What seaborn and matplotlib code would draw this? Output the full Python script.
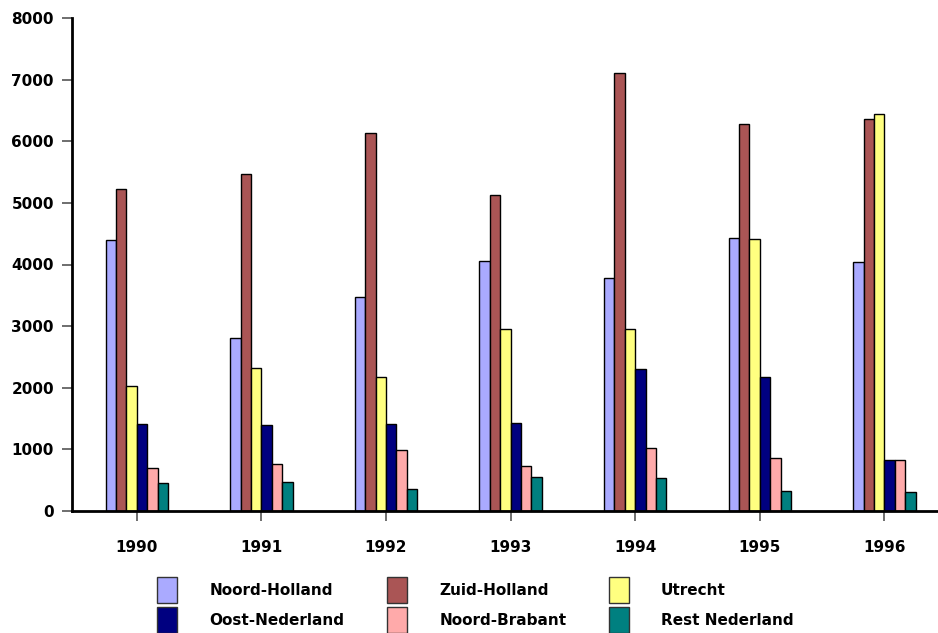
import matplotlib
matplotlib.use("Agg")
import matplotlib.pyplot as plt
from matplotlib.patches import Patch
import numpy as np
import pandas as pd
import seaborn as sns

years = ["1990", "1991", "1992", "1993", "1994", "1995", "1996"]
regions = ["Noord-Holland", "Zuid-Holland", "Utrecht",
           "Oost-Nederland", "Noord-Brabant", "Rest Nederland"]

noord_holland = [4400, 2810, 3470, 4060, 3780, 4435, 4035]
zuid_holland = [5225, 5475, 6130, 5130, 7100, 6275, 6355]
utrecht = [2030, 2325, 2170, 2960, 2950, 4420, 6435]
oost_nederland = [1410, 1390, 1410, 1430, 2310, 2170, 835]
noord_brabant = [700, 765, 985, 735, 1015, 855, 825]
rest_nederland = [460, 470, 350, 555, 540, 325, 310]

colors = ["#AAAAFF", "#AA5555", "#FFFF80", "#000080", "#FFAAAA", "#008080"]

series = [noord_holland, zuid_holland, utrecht,
          oost_nederland, noord_brabant, rest_nederland]
df = pd.DataFrame({
    "year": np.repeat([years], len(regions), axis=0).ravel(),
    "region": np.repeat(regions, len(years)),
    "value": np.concatenate(series),
})

sns.set_theme(style="white")
plt.rcParams["font.family"] = ["DejaVu Sans"]
plt.rcParams["text.color"] = "black"

fig = plt.figure(figsize=(9.38, 6.33), dpi=100)
ax = fig.add_axes([72 / 938, 122 / 633, 1 - 72 / 938, 493 / 633])

sns.barplot(data=df, x="year", y="value", hue="region", order=years,
            hue_order=regions, palette=colors, width=0.5, gap=0,
            edgecolor="black", linewidth=1, saturation=1, ax=ax,
            legend=False, errorbar=None)

ax.set_ylim(0, 8000)
ax.set_xlim(-0.52, 6.43)
ax.set_yticks(range(0, 8001, 1000))
ax.set_xlabel("")
ax.set_ylabel("")

for side in ("top", "right"):
    ax.spines[side].set_visible(False)
for side in ("left", "bottom"):
    ax.spines[side].set_color("black")
    ax.spines[side].set_linewidth(2)

ax.tick_params(axis="y", direction="out", length=7, width=1.2,
               color="#555555", labelcolor="black", pad=6, left=True,
               labelsize=11)
ax.tick_params(axis="x", direction="out", length=7, width=1.2,
               color="#555555", labelcolor="black", pad=14, bottom=True,
               labelsize=11)
for lbl in ax.get_xticklabels() + ax.get_yticklabels():
    lbl.set_fontweight("bold")

# legend laid out row by row: three columns, two rows
order = [0, 3, 1, 4, 2, 5]
handles = [Patch(facecolor=colors[i], edgecolor="#333333", linewidth=1)
           for i in order]
labels = [regions[i] for i in order]
fig.legend(handles, labels, ncol=3, loc="center",
           bbox_to_anchor=(0.507, 0.044), frameon=False,
           prop={"weight": "bold", "size": 11},
           handlelength=1.3, handleheight=2.2, handletextpad=2.1,
           columnspacing=2.8, labelspacing=0.3)

fig.savefig("out.png", dpi=100)
